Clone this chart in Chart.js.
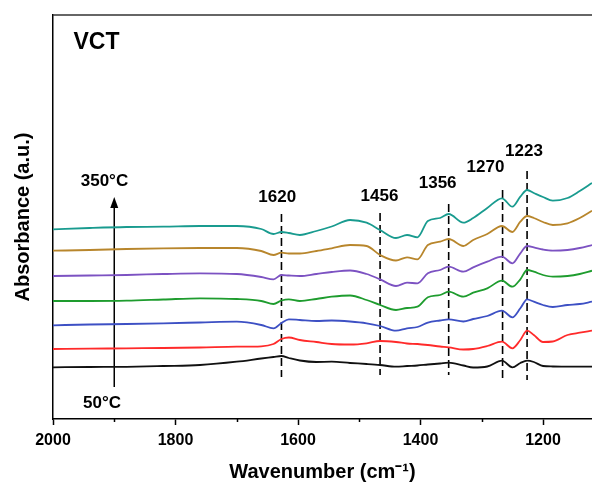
<!DOCTYPE html>
<html>
<head>
<meta charset="utf-8">
<script src="https://cdn.jsdelivr.net/npm/chart.js@4.4.1/dist/chart.umd.min.js"></script>
<style>
  html, body { margin: 0; padding: 0; background: #fff; }
  #wrap { width: 592px; height: 488px; }
</style>
</head>
<body>
<div id="wrap"><canvas id="ftirChart"></canvas></div>
<script>
// wavenumber grid (cm-1) shared by all spectra
const wavenumbers = [2000, 1940, 1880, 1820, 1760, 1700, 1660, 1640, 1627, 1615, 1597, 1570, 1545, 1515, 1488, 1466, 1440, 1422, 1405, 1388, 1368, 1354, 1330, 1314, 1291, 1267, 1250, 1237, 1226, 1215, 1200, 1184, 1160, 1140, 1120];

// stacked absorbance (a.u.), bottom to top
const abs50 = [0.517, 0.52, 0.522, 0.53, 0.54, 0.573, 0.605, 0.62, 0.63, 0.61, 0.585, 0.57, 0.573, 0.56, 0.55, 0.54, 0.523, 0.53, 0.535, 0.545, 0.555, 0.563, 0.535, 0.515, 0.525, 0.583, 0.517, 0.56, 0.583, 0.57, 0.53, 0.525, 0.523, 0.523, 0.523];
const abs100 = [0.70, 0.703, 0.707, 0.71, 0.715, 0.723, 0.727, 0.75, 0.80, 0.815, 0.79, 0.77, 0.75, 0.745, 0.757, 0.78, 0.77, 0.755, 0.75, 0.74, 0.725, 0.717, 0.695, 0.70, 0.73, 0.773, 0.707, 0.79, 0.883, 0.84, 0.77, 0.775, 0.84, 0.863, 0.883];
const abs150 = [0.937, 0.945, 0.95, 0.957, 0.965, 0.973, 0.94, 0.907, 0.96, 0.997, 0.99, 0.98, 0.985, 0.975, 0.957, 0.93, 0.883, 0.907, 0.92, 0.963, 0.985, 0.997, 0.975, 1.00, 1.03, 1.083, 1.017, 1.107, 1.197, 1.173, 1.14, 1.12, 1.14, 1.15, 1.173];
const abs200 = [1.18, 1.18, 1.183, 1.195, 1.207, 1.20, 1.18, 1.15, 1.185, 1.197, 1.18, 1.20, 1.223, 1.235, 1.19, 1.14, 1.09, 1.11, 1.123, 1.217, 1.24, 1.273, 1.223, 1.263, 1.307, 1.383, 1.323, 1.397, 1.49, 1.473, 1.44, 1.423, 1.43, 1.45, 1.483];
const abs250 = [1.43, 1.435, 1.44, 1.45, 1.457, 1.45, 1.42, 1.397, 1.44, 1.435, 1.43, 1.45, 1.47, 1.485, 1.45, 1.397, 1.33, 1.363, 1.357, 1.457, 1.49, 1.523, 1.473, 1.517, 1.573, 1.623, 1.557, 1.657, 1.73, 1.717, 1.695, 1.683, 1.69, 1.71, 1.74];
const abs300 = [1.683, 1.69, 1.70, 1.707, 1.71, 1.71, 1.68, 1.64, 1.663, 1.655, 1.655, 1.68, 1.707, 1.74, 1.73, 1.64, 1.585, 1.617, 1.597, 1.74, 1.773, 1.80, 1.73, 1.79, 1.85, 1.93, 1.87, 1.973, 2.03, 2.01, 1.97, 1.94, 1.957, 2.01, 2.083];
const abs350 = [1.897, 1.91, 1.92, 1.923, 1.93, 1.93, 1.90, 1.85, 1.87, 1.86, 1.84, 1.88, 1.925, 1.99, 1.963, 1.89, 1.81, 1.84, 1.817, 1.98, 2.01, 2.05, 1.963, 2.01, 2.11, 2.207, 2.123, 2.223, 2.29, 2.26, 2.22, 2.183, 2.21, 2.28, 2.36];

const temps = ['50 °C', '100 °C', '150 °C', '200 °C', '250 °C', '300 °C', '350 °C'];
const spectra = [abs50, abs100, abs150, abs200, abs250, abs300, abs350];
const colors = ['#111111', '#ff2a2a', '#3d50c4', '#1e9c2e', '#7c52c2', '#b8862c', '#199b8f'];

// x axis ticks
const xTicks = [2000, 1900, 1800, 1700, 1600, 1500, 1400, 1300, 1200];

// marked bands
const peakLabels = ['1620', '1456', '1356', '1270', '1223'];
const peakLinePos = [1627, 1466, 1354, 1266, 1226];
const peakLineTop = [2.05, 2.06, 2.15, 2.29, 2.48];
const peakLineBottom = [0.42, 0.44, 0.44, 0.37, 0.39];
const peakLabelPos = [1634, 1467, 1372, 1294, 1231];
const peakLabelY = [2.215, 2.225, 2.36, 2.515, 2.675];

// temperature arrow
const arrowX = 1900;
const arrowFrom = 0.32;
const arrowTo = 2.22;

Chart.defaults.font.family = '"Liberation Sans", Arial, sans-serif';
Chart.defaults.color = '#000';

const datasets = spectra.map((s, i) => ({
    label: temps[i],
    data: wavenumbers.map((w, j) => ({x: w, y: s[j]})),
    borderColor: colors[i],
    borderWidth: 1.8,
    pointRadius: 0,
    cubicInterpolationMode: 'monotone',
    fill: false
}));

peakLinePos.forEach((p, i) => {
    datasets.push({
        label: 'band ' + peakLabels[i],
        data: [{x: p, y: peakLineTop[i]}, {x: p, y: peakLineBottom[i]}],
        borderColor: '#000',
        borderWidth: 1.6,
        borderDash: [8, 4],
        pointRadius: 0
    });
});

datasets.push({
    label: 'arrow',
    data: [{x: arrowX, y: arrowFrom}, {x: arrowX, y: arrowTo - 0.08}],
    borderColor: '#000',
    borderWidth: 1.5,
    pointRadius: 0
});

const overlay = {
    id: 'overlay',
    afterDatasetsDraw(chart) {
        const {ctx, chartArea: a, scales: {x, y}} = chart;
        ctx.save();
        // top frame line
        ctx.strokeStyle = '#333';
        ctx.lineWidth = 1.5;
        ctx.beginPath();
        ctx.moveTo(a.left, a.top);
        ctx.lineTo(a.right, a.top);
        ctx.stroke();

        // minor ticks
        ctx.strokeStyle = '#000';
        [1900, 1700, 1500, 1300].forEach(v => {
            const px = Math.round(x.getPixelForValue(v)) + 0.5;
            ctx.beginPath();
            ctx.moveTo(px, a.bottom);
            ctx.lineTo(px, a.bottom + 3);
            ctx.stroke();
        });

        // arrow head
        const ax = x.getPixelForValue(arrowX);
        const ay = y.getPixelForValue(arrowTo);
        ctx.fillStyle = '#000';
        ctx.beginPath();
        ctx.moveTo(ax, ay);
        ctx.lineTo(ax - 4, ay + 11);
        ctx.lineTo(ax + 4, ay + 11);
        ctx.closePath();
        ctx.fill();

        // texts
        ctx.textAlign = 'center';
        ctx.textBaseline = 'middle';
        ctx.font = 'bold 17px "Liberation Sans", Arial, sans-serif';
        peakLabels.forEach((t, i) => {
            ctx.fillText(t, x.getPixelForValue(peakLabelPos[i]), y.getPixelForValue(peakLabelY[i]));
        });
        ctx.fillText('350°C', x.getPixelForValue(1916), y.getPixelForValue(2.373));
        ctx.fillText('50°C', x.getPixelForValue(1920), y.getPixelForValue(0.16));
        ctx.font = 'bold 23px "Liberation Sans", Arial, sans-serif';
        ctx.fillText('VCT', x.getPixelForValue(1929), y.getPixelForValue(3.765));
        ctx.restore();
    }
};

new Chart(document.getElementById('ftirChart'), {
    type: 'line',
    data: {datasets: datasets},
    options: {
        animation: false,
        responsive: true,
        maintainAspectRatio: false,
        layout: {
            padding: {top: 15, left: 0, right: 0, bottom: 0}
        },
        plugins: {
            legend: {display: false},
            tooltip: {enabled: false}
        },
        scales: {
            x: {
                type: 'linear',
                reverse: true,
                min: 1120,
                max: 2000,
                afterBuildTicks: s => { s.ticks = xTicks.map(v => ({value: v})); },
                afterFit: s => { s.height = 69; },
                ticks: {
                    font: {size: 16, weight: 'bold'},
                    color: '#000',
                    padding: 6,
                    maxRotation: 0,
                    autoSkip: false,
                    callback: v => (v % 200 === 0 ? String(v) : '')
                },
                grid: {
                    drawOnChartArea: false,
                    tickLength: 6,
                    tickWidth: 1.5,
                    tickColor: c => (c.tick && c.tick.value % 200 === 0 ? '#000' : 'rgba(0,0,0,0)')
                },
                border: {color: '#000', width: 1.5},
                title: {
                    display: true,
                    text: 'Wavenumber (cm⁻¹)',
                    font: {size: 20, weight: 'bold'},
                    color: '#000',
                    padding: {top: 0, bottom: 4}
                }
            },
            y: {
                min: 0,
                max: 4.04,
                ticks: {display: false},
                grid: {display: false},
                border: {color: '#000', width: 1.5},
                afterFit: s => { s.width = 53; },
                title: {
                    display: true,
                    text: 'Absorbance (a.u.)',
                    font: {size: 20, weight: 'bold'},
                    color: '#000',
                    padding: {top: 11, bottom: 0}
                }
            }
        }
    },
    plugins: [overlay]
});
</script>
</body>
</html>
